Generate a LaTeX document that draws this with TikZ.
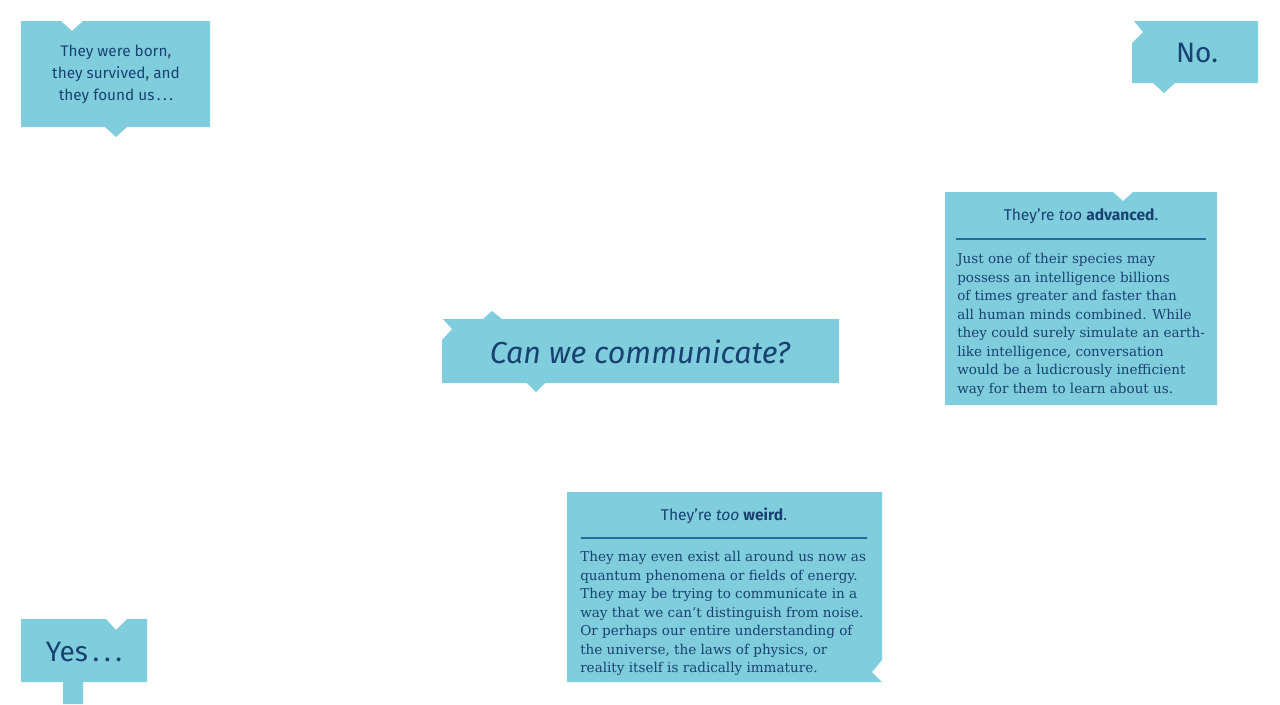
\documentclass[tikz,border=0pt]{standalone}
\usepackage{fontspec}
\setmainfont{DejaVu Serif}
\newfontfamily\handfont{Fira Sans}
\definecolor{bubblecyan}{RGB}{128,206,221}
\definecolor{inkblue}{RGB}{24,66,112}
\definecolor{rulecyan}{RGB}{38,106,156}
\usetikzlibrary{positioning}

\begin{document}
\begin{tikzpicture}[x=0.75pt,y=-0.75pt,
		bubble/.style={fill=bubblecyan},
		hand/.style={font=\handfont\fontsize{11.5}{16.5}\selectfont,text=inkblue,align=center,inner sep=0pt},
		bighand/.style={font=\handfont\fontsize{21}{25}\selectfont,text=inkblue,inner sep=0pt},
		headline/.style={font=\handfont\fontsize{11.7}{14}\selectfont,text=inkblue,inner sep=0pt},
		bodytext/.style={font=\fontsize{10.15}{13.9}\selectfont,text=inkblue,align=left,inner sep=0pt,anchor=north west}]
			\useasboundingbox (0,0) rectangle (1280,704);
			\fill[bubble] (21,21) -- (61,21) -- (72,31) -- (83,21) -- (210,21) -- (210,127) -- (127,127) -- (116,137) -- (105,127) -- (21,127) -- cycle;
			\fill[bubble] (1134,21) -- (1258,21) -- (1258,83) -- (1175,83) -- (1164,93) -- (1153,83) -- (1132,83) -- (1132,43) -- (1143,32) -- cycle;
			\fill[bubble] (443,319) -- (483,319) -- (492,311) -- (502,319) -- (839,319) -- (839,383) -- (545,383) -- (536,392) -- (527,383) -- (442,383) -- (442,340) -- (452,329) -- cycle;
			\fill[bubble] (21,619) -- (106,619) -- (116,630) -- (127,619) -- (147,619) -- (147,682) -- (83,682) -- (83,704) -- (63,704) -- (63,682) -- (21,682) -- cycle;
			\fill[bubble] (945,192) -- (1113,192) -- (1123,201) -- (1133,192) -- (1217,192) -- (1217,405) -- (945,405) -- cycle;
			\fill[bubble] (567,492) -- (882,492) -- (882,660) -- (872,672) -- (882,682) -- (567,682) -- cycle;
			\node[hand] (born) at (116,74) {They were born,\\they survived, and\\they found us\,.\,.\,.};
			\node[bighand] (no) at (1197,53) {No.};
			\node[bighand,font=\handfont\itshape\fontsize{22.8}{26}\selectfont] (ask) at (640,352) {Can we communicate?};
			\node[bighand] (yes) at (84,652) {Yes\,.\,.\,.};
			\node[headline] (advtitle) at (1081,216) {They’re \textit{too} \textbf{advanced}.};
			\draw[rulecyan,line width=1pt] (956,239) -- (1206,239);
			\node[bodytext] (advbody) at (957,253) {Just one of their species may\\possess an intelligence billions\\of times greater and faster than\\all human minds combined. While\\they could surely simulate an earth-\\like intelligence, conversation\\would be a ludicrously inefficient\\way for them to learn about us.};
			\node[headline] (weirdtitle) at (724,516) {They’re \textit{too} \textbf{weird}.};
			\draw[rulecyan,line width=1pt] (581,538) -- (867,538);
			\node[bodytext] (weirdbody) at (580,551) {They may even exist all around us now as\\quantum phenomena or fields of energy.\\They may be trying to communicate in a\\way that we can’t distinguish from noise.\\Or perhaps our entire understanding of\\the universe, the laws of physics, or\\reality itself is radically immature.};
		\end{tikzpicture}
\end{document}
